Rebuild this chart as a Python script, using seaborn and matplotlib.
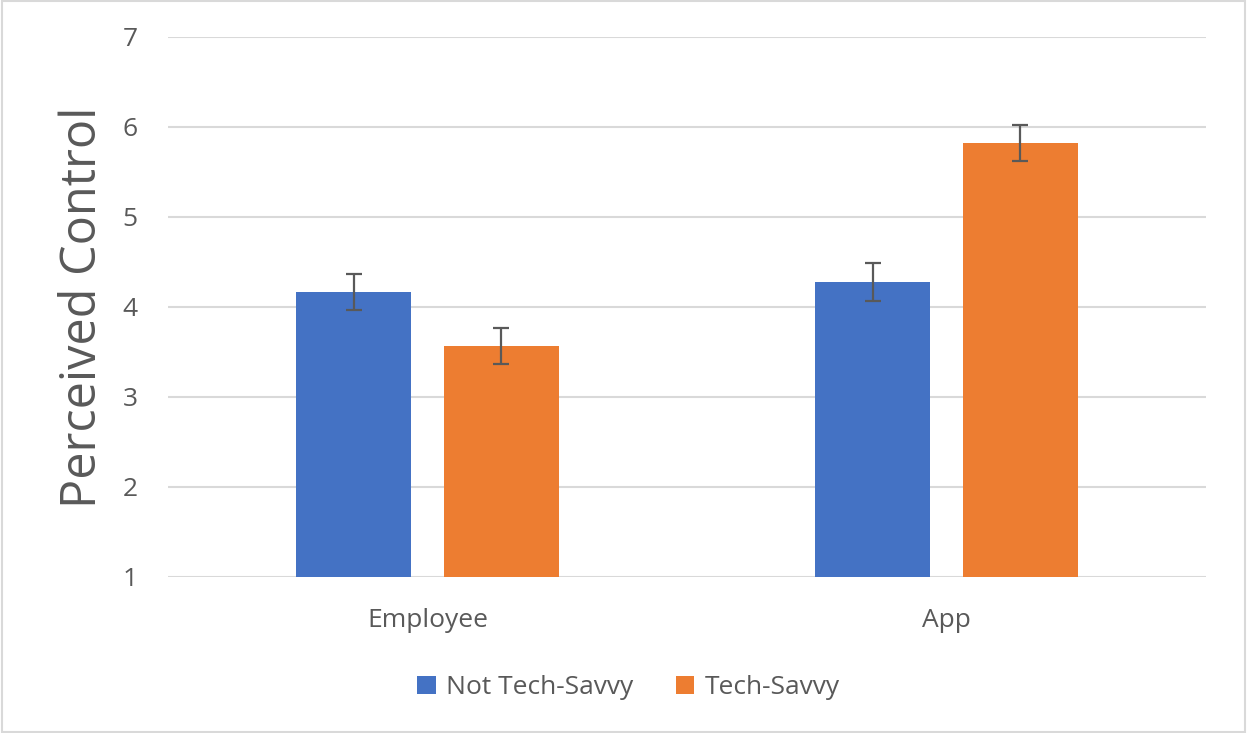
import seaborn as sns
import matplotlib.pyplot as plt
import matplotlib.patches as mpatches
import pandas as pd

# valores
condiciones = ["Employee", "App"]
grupos = ["Not Tech-Savvy", "Tech-Savvy"]
control_not_savvy = [4.17, 4.28]
control_savvy = [3.57, 5.82]
error_not_savvy = [0.20, 0.21]
error_savvy = [0.20, 0.20]

colores = {"Not Tech-Savvy": "#4472C4", "Tech-Savvy": "#ED7D31"}
gris_texto = "#595959"

df = pd.DataFrame({
    "Condicion": condiciones * 2,
    "Grupo": [grupos[0]] * 2 + [grupos[1]] * 2,
    "Control": control_not_savvy + control_savvy,
})
errores = {grupos[0]: error_not_savvy, grupos[1]: error_savvy}

sns.set_theme(style="white")
plt.rcParams["font.family"] = ["Open Sans", "DejaVu Sans"]

fig = plt.figure(figsize=(12.47, 7.33), dpi=100)
ax = fig.add_axes([168 / 1247, 156 / 733, 1038 / 1247, 540 / 733])

sns.barplot(
    data=df, x="Condicion", y="Control", hue="Grupo",
    order=condiciones, hue_order=grupos, palette=colores, saturation=1,
    width=0.57, gap=0.22, errorbar=None, ax=ax, legend=True,
    edgecolor="none", linewidth=0,
)

# barras de error a mano, una por barra
for contenedor, grupo in zip(ax.containers, grupos):
    for barra, err in zip(contenedor.patches, errores[grupo]):
        xc = barra.get_x() + barra.get_width() / 2
        ax.errorbar(xc, barra.get_height(), yerr=err, fmt="none",
                    ecolor=gris_texto, elinewidth=1.6, capsize=6, capthick=1.6, zorder=5)

ax.set_ylim(1, 7)
ax.set_xlim(-0.5, 1.5)
ax.set_yticks(range(1, 8))
ax.yaxis.grid(True, color="#D9D9D9", linewidth=1.5)
ax.set_axisbelow(True)
for lado in ["left", "right", "top", "bottom"]:
    ax.spines[lado].set_visible(False)
ax.tick_params(axis="both", length=0, colors=gris_texto, labelsize=19)
ax.tick_params(axis="y", pad=22)
ax.tick_params(axis="x", pad=22)
ax.set_xlabel("")
ax.set_ylabel("Perceived Control", fontsize=35, color=gris_texto, labelpad=10)

handles, labels = ax.get_legend_handles_labels()
ax.get_legend().remove()
fig.legend(handles, labels, loc="center", bbox_to_anchor=(0.504, 0.062), ncol=2,
           frameon=False, fontsize=19, labelcolor=gris_texto, handlelength=0.7,
           handleheight=0.7, handletextpad=0.4, columnspacing=1.6)

# marco del grafico estilo excel
fig.patches.append(mpatches.Rectangle((0.002, 0.002), 0.996, 0.996, transform=fig.transFigure,
                                      fill=False, edgecolor="#D9D9D9", linewidth=1.5))

plt.savefig("out.png", dpi=100)
plt.close()
